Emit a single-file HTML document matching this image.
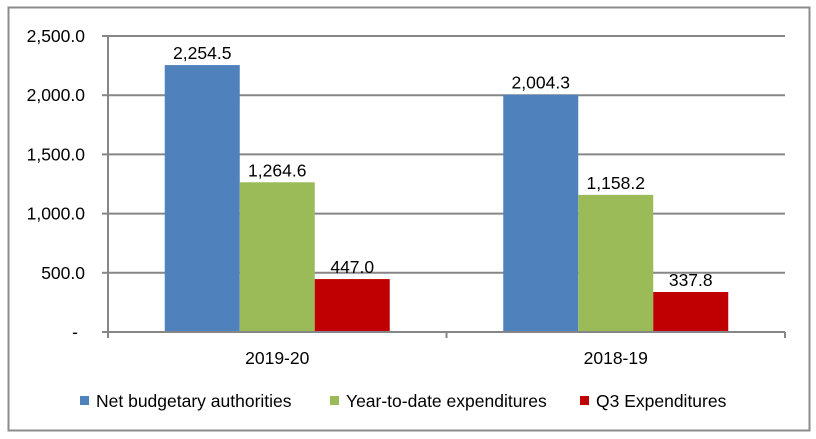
<!DOCTYPE html>
<html><head><meta charset="utf-8"><style>
body{margin:0;background:#fff}
svg{display:block;font-family:"Liberation Sans",sans-serif}
</style></head><body>
<svg width="816" height="439">
<rect x="8.5" y="7.5" width="801" height="423" fill="#fff" stroke="#8c8c8c" stroke-width="2"/>
<g id="g"></g>
</svg>
<script>
const categories=["2019-20","2018-19"];
const seriesNames=["Net budgetary authorities","Year-to-date expenditures","Q3 Expenditures"];
const netAuth=[2254.5,2004.3];
const ytd=[1264.6,1158.2];
const q3=[447.0,337.8];
const yTicks=[0,500,1000,1500,2000,2500];
const yTickLabels=["-","500.0","1,000.0","1,500.0","2,000.0","2,500.0"];
const colors=["#4f81bd","#9bbb59","#c00000"];
const series=[netAuth,ytd,q3];
const NS="http://www.w3.org/2000/svg",g=document.getElementById("g");
const x0=108,x1=785,yTop=36,yBot=332,yMax=2500,FS=17.5;
const y=v=>yBot-(v/yMax)*(yBot-yTop);
const gw=(x1-x0)/categories.length,bw=75;
function mk(t,a,txt){const e=document.createElementNS(NS,t);for(const k in a)e.setAttribute(k,a[k]);if(txt!=null)e.textContent=txt;g.appendChild(e);return e;}
yTicks.forEach((t,i)=>{
 if(t>0){const l=mk("line",{x1:x0,x2:x1,y1:y(t),y2:y(t),stroke:"#868686","stroke-width":2});
 
 }
 const tk=mk("line",{x1:102,x2:x0,y1:y(t),y2:y(t),stroke:"#868686","stroke-width":2});
 
 
 const lb=mk("text",{x:t===0?78:85,y:y(t)+6,"text-anchor":"end","font-size":FS,fill:"#000"},yTickLabels[i]);
 
 
});
const ax=mk("line",{x1:x0,x2:x0,y1:yTop,y2:yBot+6,stroke:"#868686","stroke-width":2});


categories.forEach((c,ci)=>{
 const cx=x0+gw*(ci+0.5);
 series.forEach((s,si)=>{
  const bx=cx-1.5*bw+si*bw;
  const r=mk("rect",{x:bx,y:y(s[ci]),width:bw,height:yBot-y(s[ci]),fill:colors[si]});
  
  
  const t=mk("text",{x:bx+bw/2,y:y(s[ci])-6,"text-anchor":"middle","font-size":FS},s[ci].toLocaleString("en-US",{minimumFractionDigits:1,maximumFractionDigits:1}));
  
  
 });
 const cl=mk("text",{x:cx,y:364,"text-anchor":"middle","font-size":FS},c);
 
 
});
const xa=mk("line",{x1:x0,x2:x1,y1:yBot,y2:yBot,stroke:"#868686","stroke-width":2});


for(let i=0;i<=categories.length;i++){const t=mk("line",{x1:x0+gw*i,x2:x0+gw*i,y1:yBot,y2:yBot+6,stroke:"#868686","stroke-width":2});
 
 }
const legX=[80,330,580];
seriesNames.forEach((n,i)=>{
 const r=mk("rect",{x:legX[i],y:396,width:9,height:9,fill:colors[i]});
 
 
 const t=mk("text",{x:legX[i]+16,y:407,"font-size":FS},n);
 
 
});
</script>
</body></html>
